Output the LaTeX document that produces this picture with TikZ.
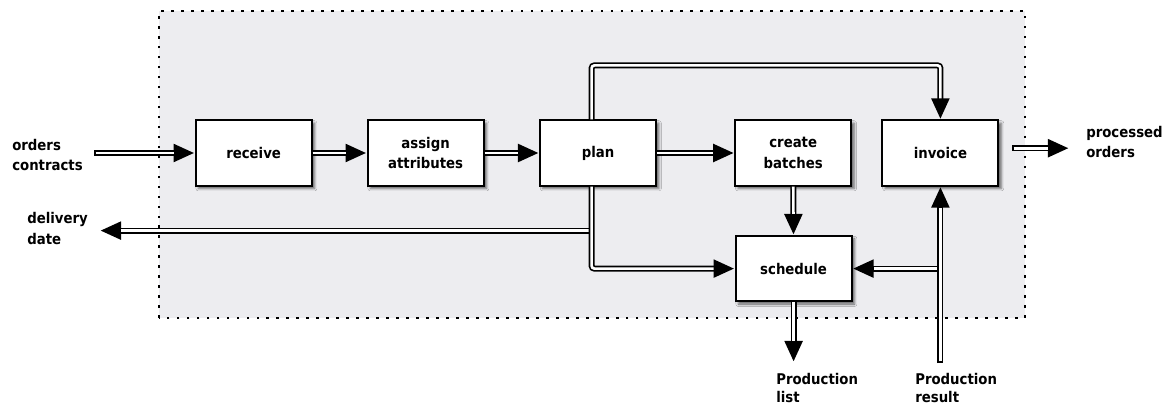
\documentclass[tikz,border=0pt]{standalone}
\usepackage{fontspec}
\setmainfont{DejaVu Sans}[FakeStretch=0.9]
\usetikzlibrary{arrows.meta, shadows.blur}

\definecolor{panel}{RGB}{237,237,240}

\begin{document}
\begin{tikzpicture}[
    font=\bfseries\fontsize{10.5}{14.5}\selectfont,
    task/.style={rectangle, draw=black, line width=1.4pt, fill=white, minimum width=2.9cm, minimum height=1.63cm, align=center, inner sep=2pt, blur shadow={shadow xshift=2pt, shadow yshift=-2pt, shadow blur radius=1.8pt, shadow opacity=60}},
    ext/.style={anchor=north west, align=left, inner sep=0pt},
    frame/.style={draw=black, line width=1.4pt, dash pattern=on 1.9pt off 5.2pt, fill=panel},
    flow/.style={draw=black, line width=4.3pt, rounded corners=2pt, -{Triangle[length=15pt, width=12pt]}, postaction={draw=white, line width=1.9pt, -, shorten >=15pt, shorten <=#1}},
    flow/.default=0pt
]
\useasboundingbox (0,0) rectangle (29.325,10.125);

% system boundary
\draw[frame] (3.975,2.175) rectangle (25.625,9.85);

% process steps
\node[task] (receive) at (6.34,6.3) {receive};
\node[task] (assign) at (10.64,6.3) {assign\\attributes};
\node[task] (plan) at (14.95,6.3) {plan};
\node[task] (batches) at (19.83,6.3) {create\\batches};
\node[task] (invoice) at (23.51,6.3) {invoice};
\node[task] (schedule) at (19.84,3.41) {schedule};

% outside inputs and outputs
\node[ext] (orders) at (0.3,6.65) {orders\\contracts};
\node[ext] (delivery) at (0.675,4.82) {delivery\\date};
\node[ext] (processed) at (27.15,6.98) {processed\\orders};
\node[ext, font=\bfseries\fontsize{10.5}{13}\selectfont] (prodlist) at (19.4,0.8) {Production\\list};
\node[ext, font=\bfseries\fontsize{10.5}{13}\selectfont] (prodres) at (22.875,0.8) {Production\\result};

% pipe ends and branch points
\coordinate (in) at (2.35,6.3);
\coordinate (dlv) at (2.5,4.36);
\coordinate (out) at (25.3,6.42);
\coordinate (outtip) at (26.725,6.42);
\coordinate (plist) at (schedule.south |- 0,1.075);
\coordinate (result) at (invoice.south |- 0,1.05);
\coordinate (tapN) at ([xshift=-0.16cm]plan.north);
\coordinate (tapS) at ([xshift=-0.16cm]plan.south);
\coordinate (split) at (tapS |- dlv);
\coordinate (merge) at (invoice.south |- schedule.east);

% main line
\draw[flow=1.2pt] (in) -- (receive.west);
\draw[flow] (receive) -- (assign);
\draw[flow] (assign) -- (plan);
\draw[flow] (plan) -- (batches);
\draw[flow] (batches) -- (schedule);
\draw[flow=1.2pt] (out) -- (outtip);

% branches around plan
\draw[flow] (tapN) -- ++(0,1.35) -| (invoice.north);
\draw[flow] (split) -- (dlv);
\draw[flow] (tapS) |- (schedule.west);

% production feedback
\draw[flow] (schedule) -- (plist);
\draw[flow] (merge) -- (schedule.east);
\draw[flow=1.2pt] (result) -- (invoice.south);

\end{tikzpicture}
\end{document}
